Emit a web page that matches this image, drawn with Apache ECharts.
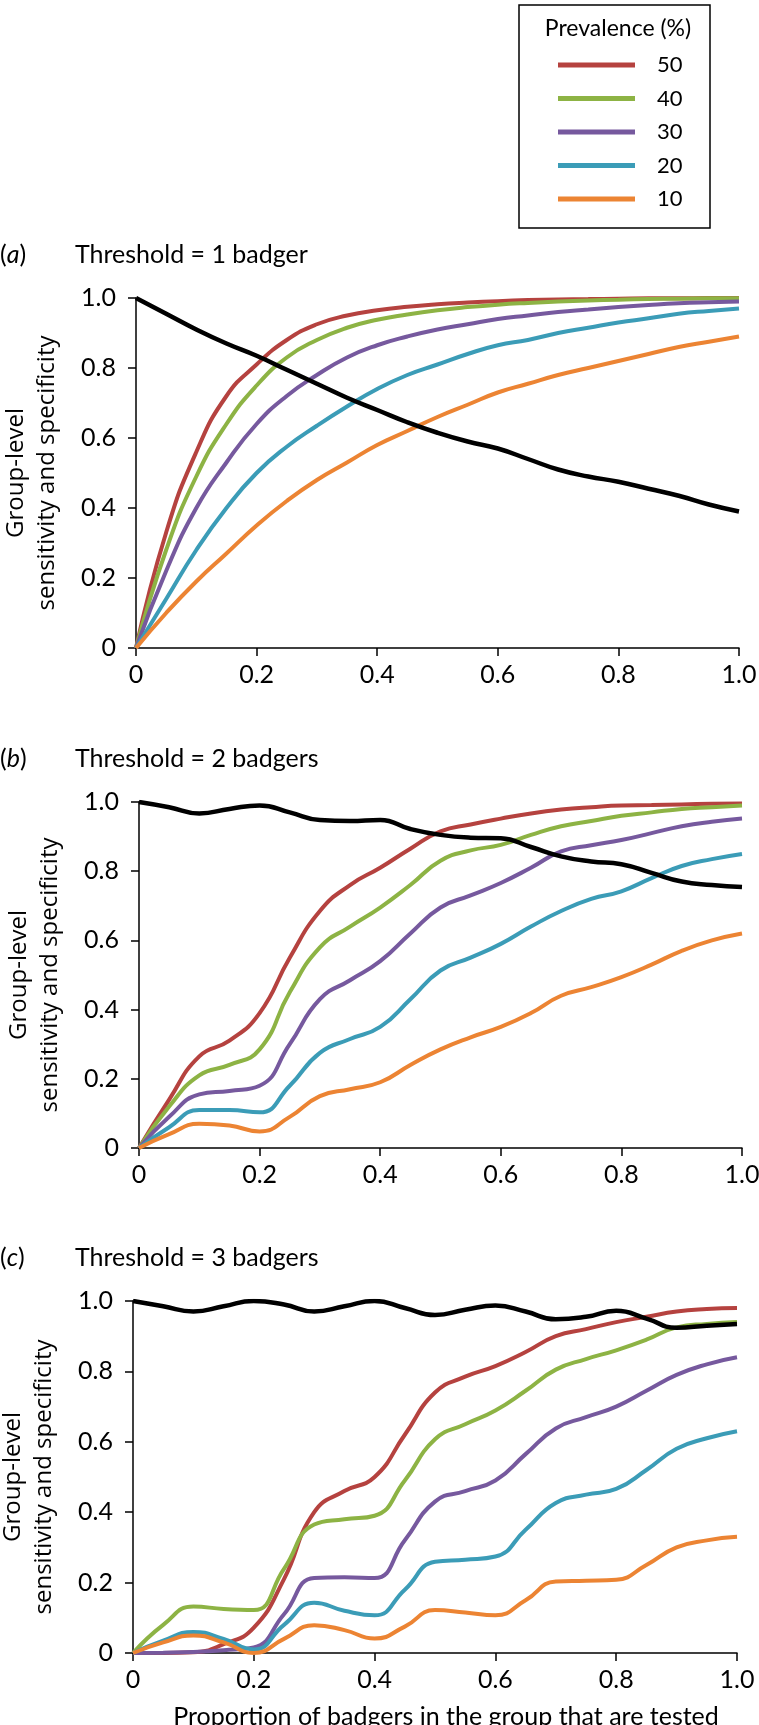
<!DOCTYPE html>
<html><head><meta charset="utf-8">
<script src="https://cdn.jsdelivr.net/npm/echarts@6/dist/echarts.min.js"></script>
<style>html,body{margin:0;padding:0;background:#fff}#c{width:759px;height:1725px}</style>
</head><body><div id="c"></div>
<script>
// ---- data ----
const xs = [0,0.05,0.1,0.15,0.2,0.25,0.3,0.35,0.4,0.45,0.5,0.55,0.6,0.65,0.7,0.75,0.8,0.85,0.9,0.95,1.0];
const prevalence = ['50','40','30','20','10'];
const tickLabels = ['0','0.2','0.4','0.6','0.8','1.0'];
const panelLetters = ['a','b','c'];
const panelTitles = ['Threshold = 1 badger','Threshold = 2 badgers','Threshold = 3 badgers'];
const yAxisTitle = 'Group-level\nsensitivity and specificity';
const xAxisTitle = 'Proportion of badgers in the group that are tested';
const legendTitle = 'Prevalence (%)';

// panel (a) threshold = 1
const a50 = [0,0.33,0.56,0.72,0.81,0.88,0.925,0.95,0.965,0.975,0.982,0.987,0.991,0.994,0.996,0.997,0.998,0.999,0.999,1.0,1.0];
const a40 = [0,0.28,0.49,0.64,0.75,0.83,0.88,0.915,0.938,0.953,0.965,0.974,0.981,0.986,0.99,0.993,0.995,0.997,0.998,0.999,0.999];
const a30 = [0,0.22,0.40,0.53,0.64,0.72,0.78,0.83,0.865,0.89,0.91,0.925,0.94,0.95,0.96,0.967,0.974,0.98,0.985,0.988,0.99];
const a20 = [0,0.14,0.28,0.40,0.50,0.575,0.635,0.69,0.74,0.78,0.81,0.84,0.865,0.88,0.9,0.915,0.93,0.942,0.955,0.963,0.97];
const a10 = [0,0.10,0.19,0.27,0.35,0.42,0.48,0.53,0.58,0.62,0.66,0.695,0.73,0.755,0.78,0.80,0.82,0.84,0.86,0.875,0.89];
const aSpec = [1.0,0.955,0.91,0.87,0.835,0.795,0.755,0.715,0.68,0.645,0.615,0.59,0.57,0.54,0.51,0.49,0.475,0.455,0.435,0.41,0.39];

// panel (b) threshold = 2
const b50 = [0,0.14,0.265,0.31,0.39,0.55,0.685,0.76,0.81,0.865,0.915,0.935,0.952,0.967,0.978,0.985,0.99,0.991,0.993,0.995,0.996];
const b40 = [0,0.12,0.21,0.24,0.285,0.45,0.58,0.64,0.695,0.76,0.83,0.86,0.876,0.905,0.93,0.945,0.96,0.97,0.98,0.985,0.99];
const b30 = [0,0.09,0.155,0.165,0.18,0.30,0.43,0.485,0.54,0.62,0.695,0.73,0.766,0.81,0.857,0.875,0.89,0.91,0.93,0.943,0.952];
const b20 = [0,0.06,0.11,0.11,0.103,0.18,0.275,0.315,0.35,0.43,0.513,0.55,0.59,0.64,0.685,0.72,0.742,0.78,0.815,0.835,0.85];
const b10 = [0,0.04,0.07,0.065,0.048,0.09,0.15,0.17,0.19,0.24,0.285,0.32,0.35,0.39,0.44,0.465,0.494,0.53,0.57,0.6,0.62];
const bSpec = [1.0,0.985,0.967,0.98,0.99,0.97,0.948,0.945,0.948,0.922,0.905,0.897,0.895,0.87,0.843,0.828,0.82,0.795,0.77,0.76,0.754];

// panel (c) threshold = 3
const c50 = [0,0,0.002,0.025,0.072,0.21,0.40,0.46,0.50,0.62,0.74,0.785,0.815,0.855,0.90,0.92,0.94,0.955,0.97,0.977,0.98];
const c40 = [0,0.08,0.132,0.125,0.122,0.239,0.365,0.38,0.39,0.49,0.607,0.65,0.689,0.745,0.805,0.835,0.86,0.89,0.925,0.935,0.94];
const c30 = [0,0.001,0.003,0.008,0.016,0.11,0.213,0.215,0.213,0.32,0.43,0.46,0.49,0.565,0.638,0.67,0.70,0.745,0.79,0.82,0.84];
const c20 = [0,0.035,0.06,0.04,0.01,0.08,0.143,0.12,0.107,0.18,0.259,0.265,0.274,0.35,0.426,0.45,0.466,0.52,0.58,0.61,0.63];
const c10 = [0,0.03,0.05,0.03,0.0,0.04,0.079,0.065,0.041,0.075,0.122,0.115,0.107,0.15,0.203,0.205,0.208,0.25,0.30,0.32,0.33];
const cSpec = [1.0,0.985,0.97,0.985,1.0,0.99,0.97,0.985,1.0,0.98,0.96,0.975,0.987,0.97,0.948,0.955,0.972,0.95,0.924,0.93,0.935];

const panelSens = [[a50,a40,a30,a20,a10],[b50,b40,b30,b20,b10],[c50,c40,c30,c20,c10]];
const panelSpec = [aSpec,bSpec,cSpec];

// ---- styling ----
const colors = ['#B5423F','#8DB344','#76599E','#3B9CB7','#EC8433'];
const FONT = 'Lato, "Liberation Sans", sans-serif';
const grids = [
  {left:136, top:298, width:603, height:350},
  {left:139, top:802, width:603, height:346},
  {left:133, top:1301, width:604, height:352}
];

const chart = echarts.init(document.getElementById('c'), null, {renderer:'canvas'});

const axisCommon = {
  type:'value', min:0, max:1, interval:0.2,
  splitLine:{show:false},
  axisLine:{show:true, onZero:false, lineStyle:{color:'#000', width:1.5}},
  axisTick:{show:true, inside:false, length:8, lineStyle:{color:'#000', width:1.5}},
  axisLabel:{color:'#000', fontSize:25, fontFamily:FONT, formatter:v=>tickLabels[Math.round(v/0.2)], showMaxLabel:true, showMinLabel:true}
};

const xAxes = [], yAxes = [], series = [], graphics = [];
grids.forEach((g,p)=>{
  xAxes.push(Object.assign({}, axisCommon, {gridIndex:p, axisLabel:Object.assign({}, axisCommon.axisLabel, {margin:14})}));
  yAxes.push(Object.assign({}, axisCommon, {gridIndex:p, axisLabel:Object.assign({}, axisCommon.axisLabel, {margin:20})}));
  panelSens[p].forEach((arr,i)=>{
    series.push({
      type:'line', name:prevalence[i], xAxisIndex:p, yAxisIndex:p,
      data: xs.map((x,j)=>[x,arr[j]]),
      smooth:0.5, symbol:'none', showSymbol:false,
      lineStyle:{width:4, color:colors[i]}, itemStyle:{color:colors[i]},
      z:2+i, emphasis:{disabled:true}
    });
  });
  series.push({
    type:'line', name:'Specificity', xAxisIndex:p, yAxisIndex:p,
    data: xs.map((x,j)=>[x,panelSpec[p][j]]),
    smooth:0.5, symbol:'none', showSymbol:false,
    lineStyle:{width:4.5, color:'#000'}, itemStyle:{color:'#000'},
    z:10, emphasis:{disabled:true}
  });
  const ty = g.top - 43;
  graphics.push({type:'text', x:0, y:ty, style:{
    text:'({i|' + panelLetters[p] + '})', fill:'#000', font:'25px ' + FONT,
    textAlign:'left', textVerticalAlign:'middle', align:'left', verticalAlign:'middle',
    rich:{i:{fontStyle:'italic', fontSize:25, fontFamily:FONT, fill:'#000'}}
  }});
  graphics.push({type:'text', x:75, y:ty, style:{
    text:panelTitles[p], fill:'#000', font:'25px ' + FONT,
    textAlign:'left', textVerticalAlign:'middle', align:'left', verticalAlign:'middle'
  }});
  graphics.push({type:'text', x:g.left - 104, y:g.top + g.height/2, rotation:Math.PI/2, style:{
    text:yAxisTitle, fill:'#000', font:'24px "Open Sans", sans-serif', lineHeight:31,
    textAlign:'center', textVerticalAlign:'middle', align:'center', verticalAlign:'middle'
  }});
});

graphics.push({type:'text', x:446, y:1717, style:{
  text:xAxisTitle, fill:'#000', font:'25px ' + FONT,
  textAlign:'center', textVerticalAlign:'middle', align:'center', verticalAlign:'middle'
}});
graphics.push({type:'rect', shape:{x:519, y:5, width:191, height:223}, style:{fill:'#fff', stroke:'#000', lineWidth:1.5}, z:-1});
graphics.push({type:'text', x:618, y:29, style:{
  text:legendTitle, fill:'#000', font:'23px ' + FONT,
  textAlign:'center', textVerticalAlign:'middle', align:'center', verticalAlign:'middle'
}});

chart.setOption({
  animation:false,
  backgroundColor:'#fff',
  grid: grids.map(g=>Object.assign({outerBoundsMode:'none', containLabel:false}, g)),
  xAxis:xAxes, yAxis:yAxes, series:series,
  legend:{
    data:prevalence, orient:'vertical', left:553, top:48,
    itemWidth:77, itemHeight:5, itemGap:9.5, icon:'rect', selectedMode:false,
    textStyle:{fontSize:22, fontFamily:FONT, color:'#000', lineHeight:24, padding:[0,0,0,17]}
  },
  graphic:{elements:graphics}
});
</script></body></html>
